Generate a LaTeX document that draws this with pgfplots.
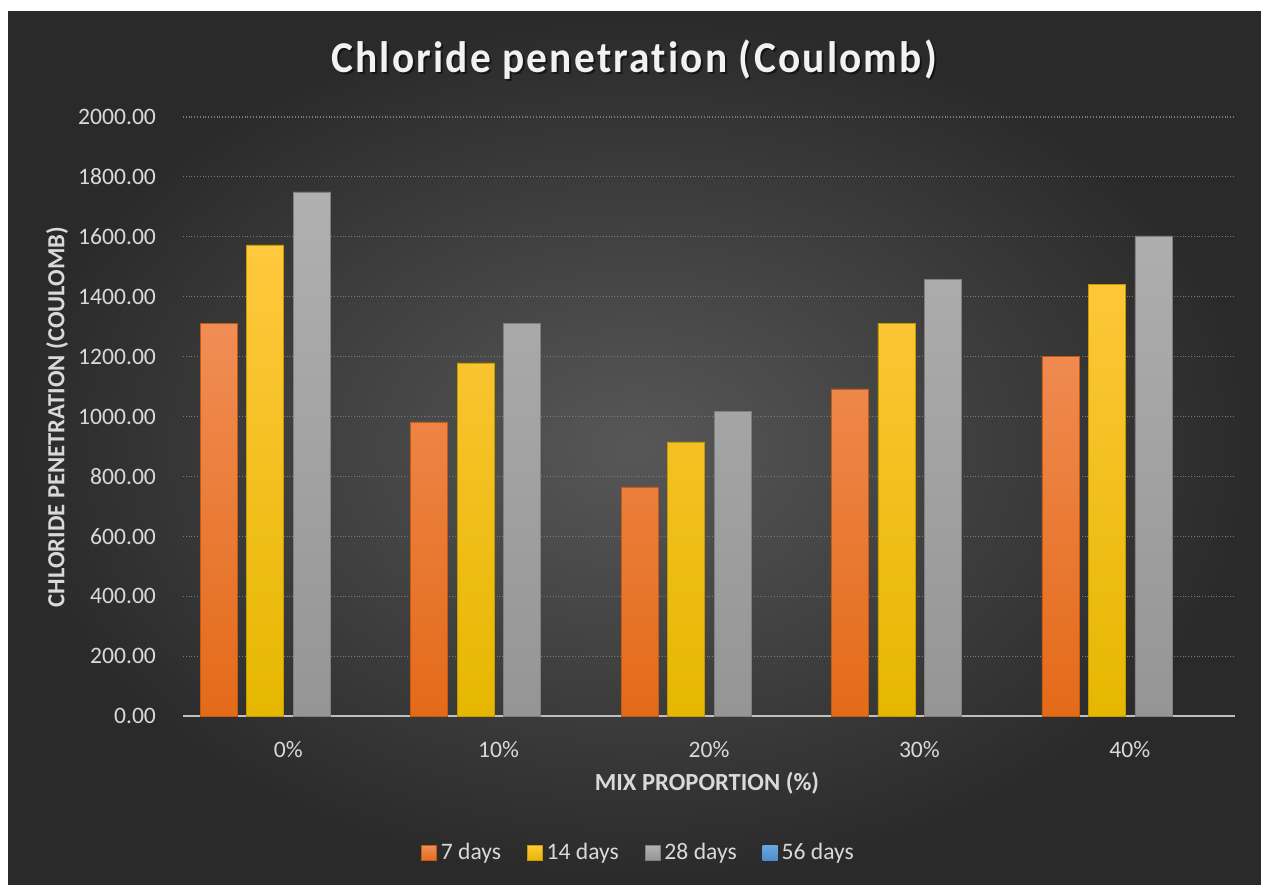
\documentclass[border=0pt]{standalone}
\usepackage{fontspec}
\setmainfont[Ligatures=CommonOff]{Carlito}
\newfontfamily\titlefont[LetterSpace=5, Ligatures=CommonOff, FakeStretch=0.94]{Carlito}
\usepackage{pgfplots}
\pgfplotsset{compat=1.18}
\definecolor{bgin}{HTML}{575757}
\definecolor{bgout}{HTML}{2A2A2A}
\definecolor{otop}{HTML}{F08D55}
\definecolor{obot}{HTML}{E46A18}
\definecolor{ytop}{HTML}{FFC83E}
\definecolor{ybot}{HTML}{E6B700}
\definecolor{gtop}{HTML}{B0B0B0}
\definecolor{gbot}{HTML}{959595}
\definecolor{btop}{HTML}{6AA6DE}
\definecolor{bbot}{HTML}{4A8CCB}
\definecolor{lbl}{HTML}{D9D9D9}
\definecolor{gridc}{HTML}{7A7A7A}
\begin{document}
\begin{tikzpicture}
\fill[white] (0pt,0pt) rectangle (630.5pt,442pt);
\shade[inner color=bgin, outer color=bgout] (4pt,0pt) rectangle (630.5pt,436pt);
\node[font=\titlefont\fontsize{22}{25}\selectfont\bfseries, text=black, opacity=0.5] at (318pt,411pt) {Chloride penetration (Coulomb)};
\node[font=\titlefont\fontsize{22}{25}\selectfont\bfseries, text=white!95!black] at (317pt,412pt) {Chloride penetration (Coulomb)};
\node[font=\fontsize{12.3}{14}\selectfont\bfseries, text=lbl, rotate=90] at (28.5pt,233.5pt) {CHLORIDE PENETRATION (COULOMB)};
\node[font=\fontsize{12.3}{14}\selectfont\bfseries, text=lbl] at (353.5pt,50.5pt) {MIX PROPORTION (\%)};
\begin{axis}[
  at={(91.5pt,84pt)}, anchor=south west,
  scale only axis, width=526pt, height=299.5pt,
  xmin=-0.5, xmax=4.5, ymin=0, ymax=2000,
  ytick distance=200,
  xtick={0,1,2,3,4},
  xticklabels={0\%,10\%,20\%,30\%,40\%},
  major tick length=0pt,
  ymajorgrids, grid style={gridc, densely dotted, line width=0.6pt},
  axis y line*=left, axis x line*=bottom,
  y axis line style={draw=none},
  x axis line style={draw=white!75!black, line width=1pt},
  tick label style={font=\fontsize{11.8}{13}\selectfont, text=lbl},
  yticklabel style={xshift=-10pt},
  xticklabel style={yshift=-9pt},
  /pgf/number format/assume math mode=true,
  yticklabel={\pgfmathprintnumber[fixed,fixed zerofill,precision=2,1000 sep={}]{\tick}},
  ybar, bar width=0.176,
  legend style={at={(0.434,-0.229)}, anchor=center, legend columns=4, draw=none, fill=none,
    text=lbl, font=\fontsize{11.8}{13}\selectfont,
    /tikz/every even column/.append style={column sep=11pt}},
  legend image code/.code={\path[#1] (0pt,-3.75pt) rectangle (7.5pt,3.75pt);},
]
\addplot[bar shift=-0.330, top color=otop, bottom color=obot, draw=obot!85!black, line width=0.3pt]
  coordinates {(0,1310) (1,982) (2,765) (3,1092) (4,1202)};
\addplot[bar shift=-0.109, top color=ytop, bottom color=ybot, draw=ybot!85!black, line width=0.3pt]
  coordinates {(0,1573) (1,1179) (2,915) (3,1312) (4,1442)};
\addplot[bar shift=0.112, top color=gtop, bottom color=gbot, draw=gbot!85!black, line width=0.3pt]
  coordinates {(0,1750) (1,1310) (2,1018) (3,1459) (4,1603)};
\addplot[bar shift=0.330, top color=btop, bottom color=bbot, draw=none]
  coordinates {(0,0) (1,0) (2,0) (3,0) (4,0)};
\legend{7 days,14 days,28 days,56 days}
\end{axis}
\end{tikzpicture}
\end{document}
